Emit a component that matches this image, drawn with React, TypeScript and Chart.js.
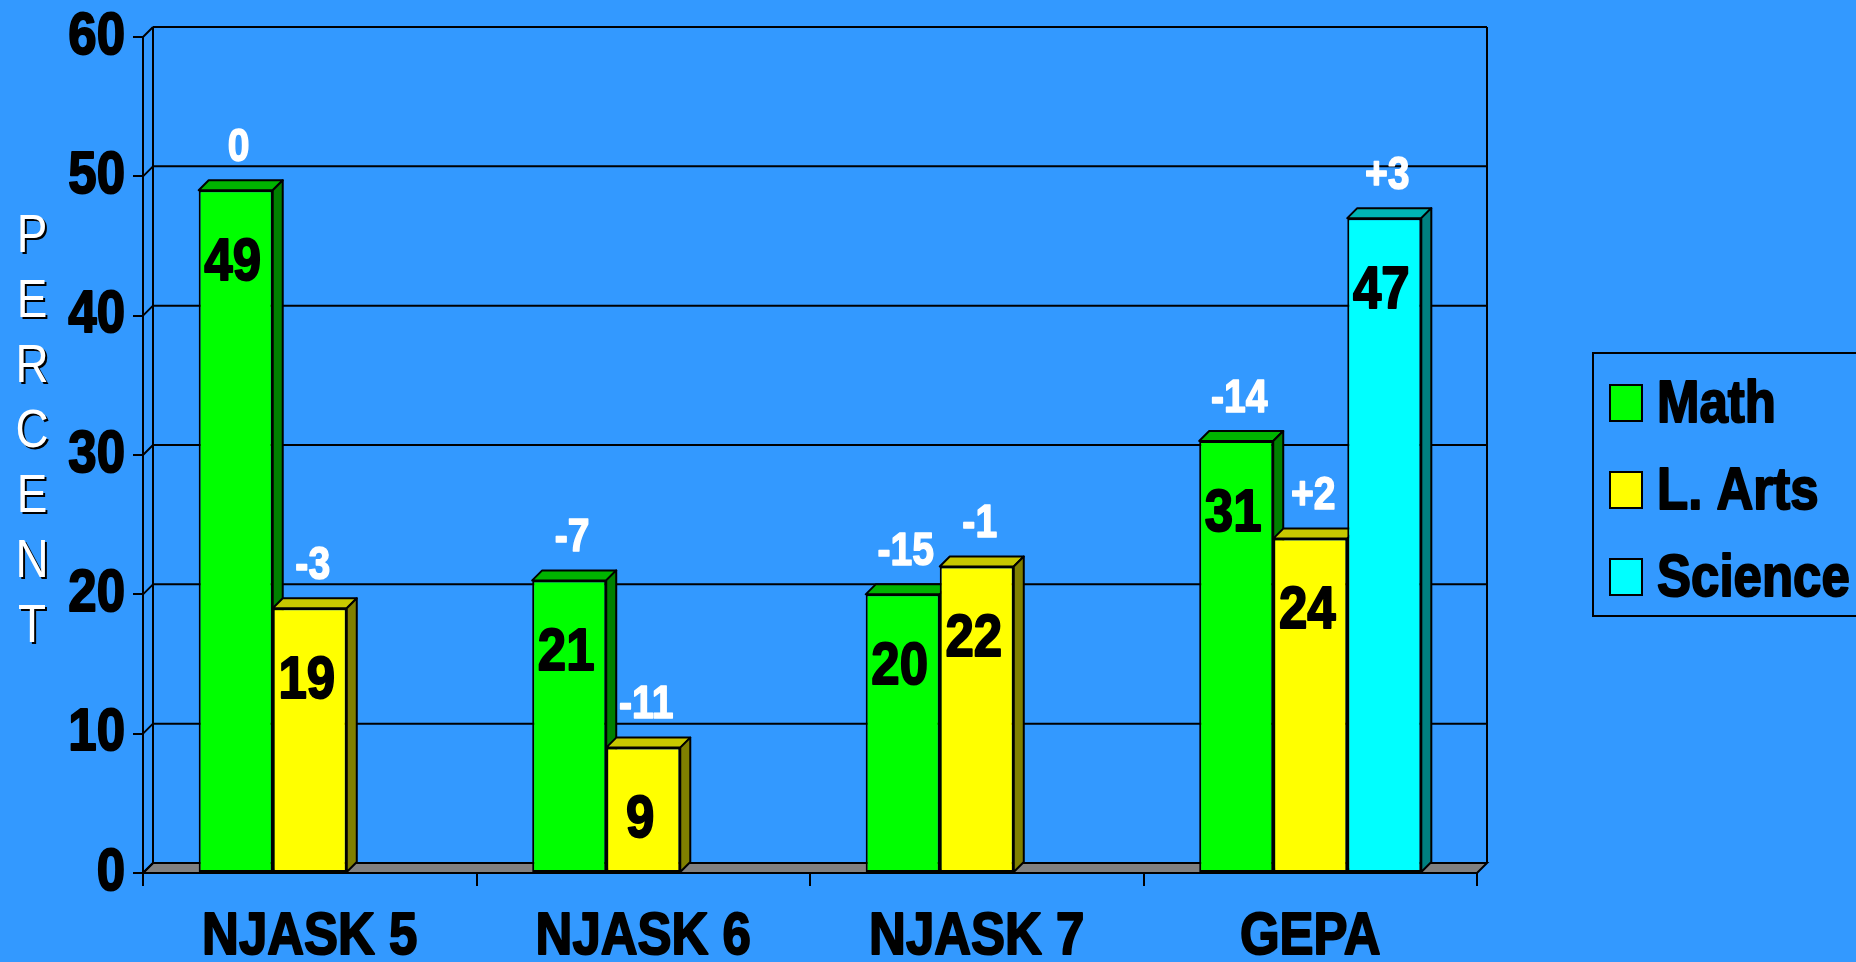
import React, { useEffect, useRef } from "react";
import { Chart, registerables } from "chart.js";

Chart.register(...registerables);

const categories = ["NJASK 5", "NJASK 6", "NJASK 7", "GEPA"];
const seriesNames = ["Math", "L. Arts", "Science"];
const mathValues = [49, 21, 20, 31];
const artsValues = [19, 9, 22, 24];
const scienceValues = [null, null, null, 47];
const mathChanges = ["0", "-7", "-15", "-14"];
const artsChanges = ["-3", "-11", "-1", "+2"];
const scienceChanges = ["", "", "", "+3"];
const yTickValues = [0, 10, 20, 30, 40, 50, 60];
const axisTitle = "PERCENT";

const frontColors = ["#00FF00", "#FFFF00", "#00FFFF"];
const topColors = ["#00B400", "#C8C800", "#00B4B4"];
const sideColors = ["#008000", "#808000", "#008080"];

const BG = "#3399FF";
const W = 1856;
const H = 962;
const D = 10;
const SX = 0.85;
const FAMILY = '"Liberation Sans", Arial, sans-serif';

const changes = [mathChanges, artsChanges, scienceChanges];

function poly(ctx: CanvasRenderingContext2D, pts: number[][], fill: string | null) {
  ctx.beginPath();
  ctx.moveTo(pts[0][0], pts[0][1]);
  for (let i = 1; i < pts.length; i++) ctx.lineTo(pts[i][0], pts[i][1]);
  ctx.closePath();
  if (fill) {
    ctx.fillStyle = fill;
    ctx.fill();
  }
  ctx.stroke();
}

function line(ctx: CanvasRenderingContext2D, x1: number, y1: number, x2: number, y2: number) {
  ctx.beginPath();
  ctx.moveTo(x1, y1);
  ctx.lineTo(x2, y2);
  ctx.stroke();
}

function narrowText(
  ctx: CanvasRenderingContext2D,
  text: string,
  x: number,
  y: number,
  align: CanvasTextAlign,
  font: string,
  color: string,
  heavy = 0
) {
  ctx.save();
  ctx.translate(x, y);
  ctx.scale(SX, 1);
  ctx.font = font;
  ctx.fillStyle = color;
  ctx.textAlign = align;
  ctx.textBaseline = "middle";
  ctx.fillText(text, 0, 0);
  if (heavy > 0) {
    ctx.strokeStyle = color;
    ctx.lineWidth = heavy;
    ctx.lineJoin = "round";
    ctx.strokeText(text, 0, 0);
  }
  ctx.restore();
}

const scenePlugin = {
  id: "scene3d",
  beforeDraw(chart: any) {
    const ctx = chart.ctx as CanvasRenderingContext2D;
    const ca = chart.chartArea;
    const ys = chart.scales.y;
    ctx.save();
    ctx.fillStyle = BG;
    ctx.fillRect(0, 0, W, H);
    ctx.strokeStyle = "#000";
    ctx.lineWidth = 2;
    poly(
      ctx,
      [
        [ca.left, ca.bottom],
        [ca.left + D, ca.bottom - D],
        [ca.right + D, ca.bottom - D],
        [ca.right, ca.bottom],
      ],
      "#808080"
    );
    for (const v of yTickValues) {
      const y = ys.getPixelForValue(v);
      line(ctx, ca.left, y, ca.left + D, y - D);
      if (v > 0) line(ctx, ca.left + D, y - D, ca.right + D, y - D);
    }
    line(ctx, ca.left + D, ca.top - D, ca.left + D, ca.bottom - D);
    line(ctx, ca.right + D, ca.top - D, ca.right + D, ca.bottom - D);
    ctx.restore();
  },
  beforeDatasetsDraw(chart: any) {
    const ctx = chart.ctx as CanvasRenderingContext2D;
    ctx.save();
    ctx.strokeStyle = "#000";
    ctx.lineWidth = 2;
    ctx.lineJoin = "round";
    const n = chart.data.labels.length;
    for (let i = 0; i < n; i++) {
      for (let d = 0; d < chart.data.datasets.length; d++) {
        const v = chart.data.datasets[d].data[i];
        if (v === null || v === undefined) continue;
        const el = chart.getDatasetMeta(d).data[i];
        const p = el.getProps(["x", "y", "base", "width"], true);
        const l = p.x - p.width / 2;
        const r = p.x + p.width / 2;
        poly(ctx, [[l, p.y], [l + D, p.y - D], [r + D, p.y - D], [r, p.y]], topColors[d]);
        poly(ctx, [[r, p.y], [r + D, p.y - D], [r + D, p.base - D], [r, p.base]], sideColors[d]);
      }
    }
    ctx.restore();
  },
  afterDatasetsDraw(chart: any) {
    const ctx = chart.ctx as CanvasRenderingContext2D;
    for (let d = 0; d < chart.data.datasets.length; d++) {
      const meta = chart.getDatasetMeta(d);
      meta.data.forEach((el: any, i: number) => {
        const v = chart.data.datasets[d].data[i];
        if (v === null || v === undefined) return;
        const p = el.getProps(["x", "y"], true);
        narrowText(ctx, String(v), p.x - 3, p.y + 73, "center", `bold 60px ${FAMILY}`, "#000", 2);
        narrowText(ctx, changes[d][i], p.x + 3, p.y - 42, "center", `bold 46px ${FAMILY}`, "#FFF", 1.5);
      });
    }
  },
  afterDraw(chart: any) {
    const ctx = chart.ctx as CanvasRenderingContext2D;
    const xs = chart.scales.x;
    const ys = chart.scales.y;
    const tickFont = `bold 60px ${FAMILY}`;
    ys.ticks.forEach((t: any, i: number) => {
      narrowText(ctx, String(t.value), 125, ys.getPixelForTick(i), "right", tickFont, "#000", 2);
    });
    xs.ticks.forEach((t: any, i: number) => {
      narrowText(ctx, String(xs.getLabelForValue(t.value)), xs.getPixelForTick(i), 937, "center", tickFont, "#000", 2);
    });
    axisTitle.split("").forEach((ch, k) => {
      const y = 237 + k * 65;
      narrowText(ctx, ch, 34, y + 2, "center", `54px ${FAMILY}`, "#000");
      narrowText(ctx, ch, 32, y, "center", `54px ${FAMILY}`, "#FFF");
    });
    ctx.save();
    ctx.strokeStyle = "#000";
    ctx.lineWidth = 2;
    ctx.strokeRect(1593, 353, 290, 263);
    const rowY = [403, 490, 577];
    seriesNames.forEach((name, k) => {
      ctx.fillStyle = frontColors[k];
      ctx.fillRect(1610, rowY[k] - 18, 32, 36);
      ctx.strokeRect(1610, rowY[k] - 18, 32, 36);
      narrowText(ctx, name, 1657, rowY[k] + 2, "left", `bold 60px ${FAMILY}`, "#000", 2);
    });
    ctx.restore();
  },
};

export default function App() {
  const ref = useRef<HTMLCanvasElement | null>(null);
  useEffect(() => {
    document.body.style.margin = "0";
    document.body.style.background = BG;
    const chart = new Chart(ref.current as HTMLCanvasElement, {
      type: "bar",
      data: {
        labels: categories,
        datasets: [mathValues, artsValues, scienceValues].map((vals, d) => ({
          label: seriesNames[d],
          data: vals as any,
          backgroundColor: frontColors[d],
          borderColor: "#000",
          borderWidth: 2,
          borderSkipped: false as any,
          barPercentage: 1,
          categoryPercentage: 0.666,
        })),
      },
      options: {
        animation: false,
        responsive: false,
        maintainAspectRatio: false,
        layout: { padding: { top: 37, right: 379, left: 0, bottom: 0 } },
        plugins: { legend: { display: false }, tooltip: { enabled: false } },
        scales: {
          x: {
            offset: true,
            afterFit: (s: any) => {
              s.height = 89;
            },
            grid: { display: true, drawOnChartArea: false, drawTicks: true, tickLength: 13, color: "#000", lineWidth: 2 },
            border: { display: true, color: "#000", width: 2 },
            ticks: { display: false },
          },
          y: {
            min: 0,
            max: 60,
            afterFit: (s: any) => {
              s.width = 143;
            },
            grid: { display: true, drawOnChartArea: false, drawTicks: true, tickLength: 10, color: "#000", lineWidth: 2 },
            border: { display: true, color: "#000", width: 2 },
            ticks: { display: false, stepSize: 10 },
          },
        },
      },
      plugins: [scenePlugin],
    });
    return () => chart.destroy();
  }, []);
  return (
    <div style={{ position: "absolute", left: 0, top: 0, width: W, height: H, background: BG }}>
      <canvas ref={ref} width={W} height={H} style={{ width: W, height: H, display: "block" }} />
    </div>
  );
}
